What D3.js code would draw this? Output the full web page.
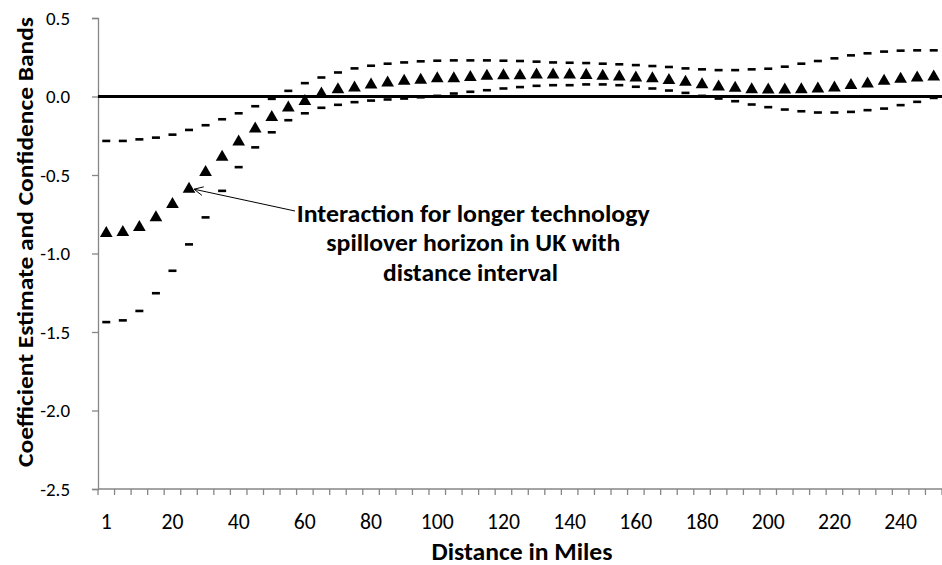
<!DOCTYPE html>
<html>
<head>
<meta charset="utf-8">
<script src="https://cdn.jsdelivr.net/npm/d3@7"></script>
<style>
  html, body { margin: 0; padding: 0; background: #fff; }
  svg { display: block; font-family: Carlito, Calibri, Lato, "Liberation Sans", sans-serif; }
</style>
</head>
<body>
<svg id="chart" width="942" height="565"></svg>
<script>
// ---- data ----
const categories = [1,5,10,15,20,25,30,35,40,45,50,55,60,65,70,75,80,85,90,95,100,105,110,115,120,125,130,135,140,145,150,155,160,165,170,175,180,185,190,195,200,205,210,215,220,225,230,235,240,245,250];
const estimate = [-0.865,-0.859,-0.827,-0.765,-0.68,-0.584,-0.477,-0.379,-0.283,-0.2,-0.126,-0.066,-0.025,0.023,0.051,0.062,0.081,0.094,0.104,0.111,0.12,0.121,0.128,0.136,0.14,0.14,0.145,0.145,0.145,0.142,0.136,0.132,0.126,0.12,0.109,0.098,0.083,0.068,0.06,0.051,0.049,0.049,0.051,0.055,0.062,0.077,0.087,0.104,0.117,0.126,0.132];
const upperBand = [-0.283,-0.283,-0.273,-0.262,-0.243,-0.213,-0.183,-0.145,-0.107,-0.062,-0.015,0.036,0.085,0.121,0.153,0.179,0.196,0.209,0.217,0.224,0.228,0.23,0.23,0.23,0.228,0.226,0.222,0.217,0.215,0.213,0.209,0.205,0.2,0.194,0.188,0.179,0.173,0.168,0.168,0.173,0.177,0.19,0.209,0.226,0.243,0.262,0.275,0.286,0.292,0.294,0.294];
const lowerBand = [-1.437,-1.426,-1.366,-1.253,-1.11,-0.942,-0.77,-0.601,-0.45,-0.324,-0.228,-0.151,-0.107,-0.072,-0.053,-0.036,-0.026,-0.019,-0.013,-0.005,0.004,0.019,0.03,0.04,0.051,0.06,0.068,0.072,0.072,0.077,0.077,0.072,0.062,0.051,0.038,0.023,0.004,-0.013,-0.03,-0.051,-0.068,-0.083,-0.094,-0.102,-0.102,-0.098,-0.087,-0.077,-0.055,-0.034,-0.009];
const yTicks = [0.5, 0.0, -0.5, -1.0, -1.5, -2.0, -2.5];
const xLabelCats = [1,20,40,60,80,100,120,140,160,180,200,220,240];
const annotationLines = ["Interaction for longer technology", "spillover horizon in UK with", "distance interval"];
const annotatedCategory = 25;

// ---- layout ----
const svg = d3.select("#chart");
const mLeft = 98, mRight = 942, mTop = 18, mBottom = 489;

const x = d3.scaleBand().domain(categories).range([mLeft, mRight]).padding(0);
const y = d3.scaleLinear().domain([-2.5, 0.5]).range([mBottom, mTop]);
const cx = c => x(c) + x.bandwidth() / 2;

const axisColor = "#868686";

// font size that makes a sample string reach a target width
function fitSize(sample, target, weight) {
  const t = svg.append("text").attr("font-size", 20).attr("font-weight", weight || "normal").text(sample);
  const w = t.node().getComputedTextLength();
  t.remove();
  return 20 * target / w;
}
const xLabelSize = fitSize("100", 33);
const yLabelSize = fitSize("0.5", 24);

// Y axis
const yAxis = d3.axisLeft(y).tickValues(yTicks).tickSize(6).tickPadding(22).tickFormat(d3.format(".1f"));
const gy = svg.append("g").attr("transform", `translate(${mLeft},0)`).call(yAxis);
gy.select(".domain").attr("stroke", axisColor).attr("stroke-width", 1.3);
gy.selectAll(".tick line").attr("stroke", axisColor).attr("stroke-width", 1.3);
gy.selectAll(".tick text").attr("font-size", yLabelSize).attr("fill", "#000")
  .style("font-family", "Carlito, Calibri, Lato, sans-serif")
  .text(d => d < 0 ? "-" + Math.abs(d).toFixed(1) : d.toFixed(1));

// X axis line
svg.append("line").attr("x1", mLeft).attr("x2", mRight).attr("y1", mBottom).attr("y2", mBottom)
  .attr("stroke", axisColor).attr("stroke-width", 1.3);
// tick marks at category boundaries
const boundaries = categories.map(c => x(c)).concat([mRight]);
svg.append("g").selectAll("line").data(boundaries).join("line")
  .attr("x1", d => d).attr("x2", d => d).attr("y1", mBottom).attr("y2", mBottom + 6)
  .attr("stroke", axisColor).attr("stroke-width", 1.3);
// x labels
svg.append("g").selectAll("text").data(xLabelCats).join("text")
  .attr("x", d => cx(d)).attr("y", 528.5).attr("text-anchor", "middle")
  .attr("font-size", xLabelSize).attr("fill", "#000").text(d => d);

// Axis titles
svg.append("text").attr("x", 522).attr("y", 559.5).attr("text-anchor", "middle")
  .attr("font-size", 24).attr("font-weight", "bold")
  .attr("textLength", 181).attr("lengthAdjust", "spacingAndGlyphs")
  .text("Distance in Miles");
svg.append("text").attr("transform", "translate(33,242) rotate(-90)").attr("text-anchor", "middle")
  .attr("font-size", 23).attr("font-weight", "bold")
  .attr("textLength", 450).attr("lengthAdjust", "spacingAndGlyphs")
  .text("Coefficient Estimate and Confidence Bands");

// zero line
svg.append("line").attr("x1", mLeft).attr("x2", mRight).attr("y1", y(0)).attr("y2", y(0))
  .attr("stroke", "#000").attr("stroke-width", 3.2);

// bands as dashes
function dashes(vals) {
  svg.append("g").selectAll("rect").data(vals.map((v, i) => [categories[i], v])).join("rect")
    .attr("x", d => cx(d[0]) - 4).attr("y", d => y(d[1]) - 1.3)
    .attr("width", 8).attr("height", 2.6).attr("fill", "#000");
}
dashes(upperBand);
dashes(lowerBand);

// triangles
const tri = d3.symbol().type(d3.symbolTriangle).size(70);
svg.append("g").selectAll("path").data(estimate.map((v, i) => [categories[i], v])).join("path")
  .attr("d", tri)
  .attr("transform", d => `translate(${cx(d[0])},${y(d[1]) + 1})`)
  .attr("fill", "#000");

// annotation
const ann = svg.append("g").attr("font-weight", "bold").attr("font-size", 24.5).attr("text-anchor", "middle");
const annLens = [353, 294, 175];
const annX = [473.3, 473.3, 470.5];
const annY = [221.7, 251.3, 281];
annotationLines.forEach((t, i) => {
  ann.append("text").attr("x", annX[i]).attr("y", annY[i])
    .attr("textLength", annLens[i]).attr("lengthAdjust", "spacingAndGlyphs").text(t);
});
// arrow
const idx = categories.indexOf(annotatedCategory);
const ax = cx(annotatedCategory) + 5, ay = y(estimate[idx]) + 1;
const sx = 295, sy = 211;
svg.append("line").attr("x1", sx).attr("y1", sy).attr("x2", ax).attr("y2", ay)
  .attr("stroke", "#000").attr("stroke-width", 1);
const ang = Math.atan2(sy - ay, sx - ax);
const hl = 10, ha = 0.45;
svg.append("path")
  .attr("d", `M${ax + hl * Math.cos(ang - ha)},${ay + hl * Math.sin(ang - ha)} L${ax},${ay} L${ax + hl * Math.cos(ang + ha)},${ay + hl * Math.sin(ang + ha)}`)
  .attr("fill", "none").attr("stroke", "#000").attr("stroke-width", 1);
</script>
</body>
</html>
